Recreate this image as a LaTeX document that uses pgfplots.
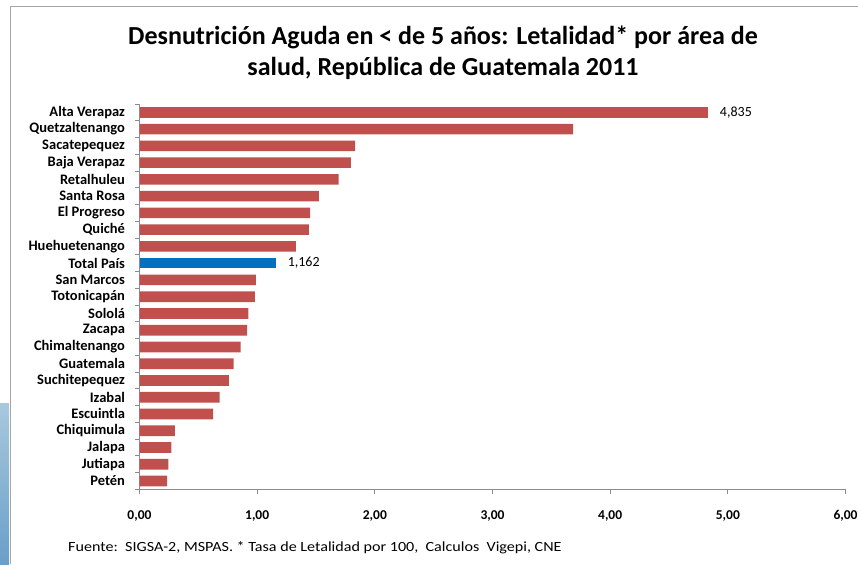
\documentclass[border=0pt]{standalone}
\usepackage{fontspec}
\setmainfont{Carlito}
\newfontfamily\widefont{Carlito}[FakeStretch=1.15]
\usepackage{pgfplots}
\pgfplotsset{compat=1.18}
\definecolor{barred}{HTML}{C0504D}
\definecolor{barblue}{HTML}{0070C0}
\definecolor{framegray}{HTML}{A6A6A6}
\definecolor{axgray}{HTML}{8C8C8C}
\definecolor{stripA}{HTML}{A8C8DC}
\definecolor{stripB}{HTML}{6A9FC9}
\begin{document}
\begin{tikzpicture}[x=1pt,y=1pt]
\useasboundingbox (0,0) rectangle (858,564);
\fill[white] (0,0) rectangle (858,564);
\shade[top color=stripA,bottom color=stripB] (0,0) rectangle (9,160);
\draw[framegray,line width=1.5pt] (10.7,0) -- (10.7,557.3) -- (858,557.3);
\node[font=\bfseries\fontsize{26}{31}\selectfont,align=center] at (443,511.5) {Desnutrición Aguda en < de 5 años: Letalidad* por área de\\salud, República de Guatemala 2011};
\node[font=\widefont\fontsize{14}{16}\selectfont,anchor=west,inner sep=0pt] at (68,16) {Fuente:\ \ SIGSA-2, MSPAS. * Tasa de Letalidad por 100,\ \ Calculos\ \ Vigepi, CNE};
\begin{axis}[
  at={(139.5pt,74.7pt)}, anchor=south west,
  scale only axis, width=706pt, height=385.3pt,
  xmin=0, xmax=6, ymin=-0.5, ymax=22.5, y dir=reverse,
  axis x line*=bottom, axis y line*=left,
  axis line style={axgray,line width=0.8pt},
  xtick={0,1,2,3,4,5,6},
  xticklabel style={font=\bfseries\fontsize{13.5}{15}\selectfont, yshift=-13pt, text height=9pt, text depth=2pt},
  /pgf/number format/.cd, fixed, fixed zerofill, precision=2, use comma, assume math mode=true,
  /pgfplots/.cd,
  ytick={0,...,22},
  yticklabels={Alta Verapaz,Quetzaltenango,Sacatepequez,Baja Verapaz,Retalhuleu,Santa Rosa,El Progreso,Quiché,Huehuetenango,Total País,San Marcos,Totonicapán,Sololá,Zacapa,Chimaltenango,Guatemala,Suchitepequez,Izabal,Escuintla,Chiquimula,Jalapa,Jutiapa,Petén},
  yticklabel style={font=\bfseries\fontsize{14.5}{16}\selectfont, xshift=-6pt},
  major y tick style={draw=none},
  minor ytick={-0.5,0.5,...,22.5},
  minor tick length=4.5pt,
  tick align=outside,
  major x tick style={axgray,line width=0.8pt},
  minor y tick style={axgray,line width=0.8pt},
  major tick length=5pt,
  xbar, bar width=10.7pt, bar shift=0pt,
  clip=false,
]
\addplot[fill=barred,draw=none] coordinates {
(3.686,1) (1.833,2) (1.796,3) (1.693,4) (1.524,5) (1.451,6) (1.439,7) (1.328,8)
(0.99,10) (0.98,11) (0.926,12) (0.915,13) (0.86,14) (0.80,15) (0.76,16) (0.68,17) (0.625,18) (0.30,19) (0.27,20) (0.245,21) (0.235,22)};
\addplot[fill=barred,draw=none,nodes near coords,
  nodes near coords style={font=\fontsize{14}{16}\selectfont,anchor=west,xshift=8pt,
    /pgf/number format/.cd,fixed,fixed zerofill,precision=3,use comma,assume math mode=true}]
  coordinates {(4.835,0)};
\addplot[fill=barblue,draw=none,nodes near coords,
  nodes near coords style={font=\fontsize{14}{16}\selectfont,anchor=west,xshift=8pt,
    /pgf/number format/.cd,fixed,fixed zerofill,precision=3,use comma,assume math mode=true}]
  coordinates {(1.162,9)};
\end{axis}
\end{tikzpicture}
\end{document}
